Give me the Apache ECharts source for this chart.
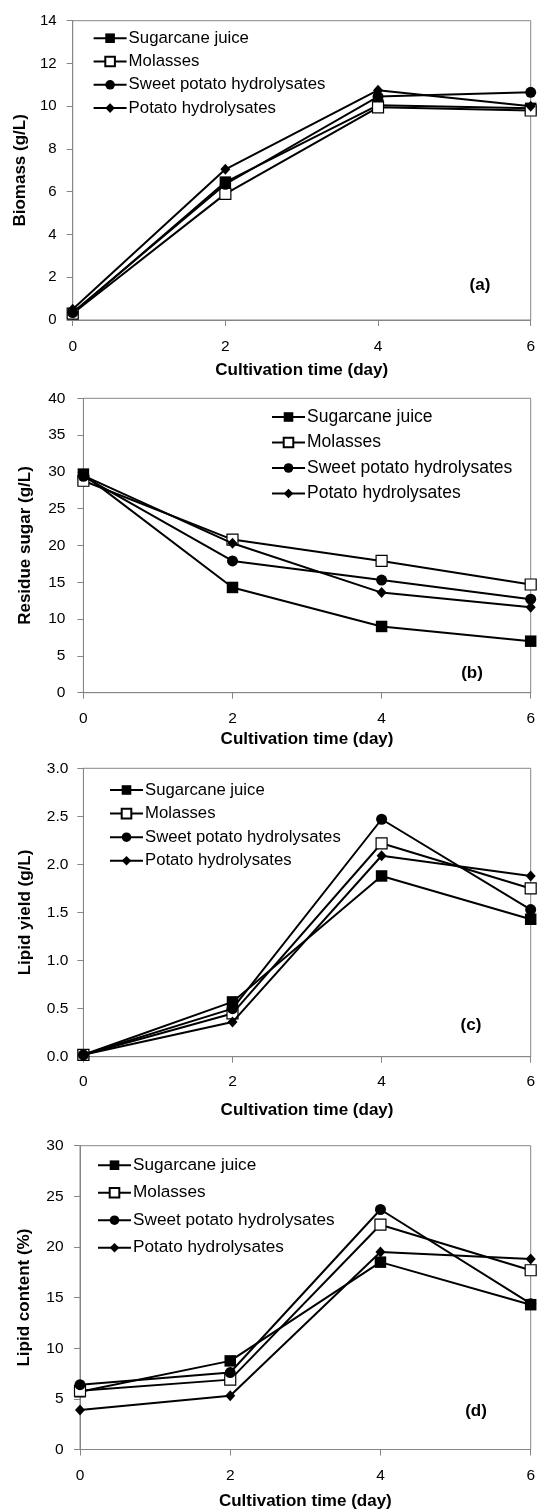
<!DOCTYPE html>
<html>
<head>
<meta charset="utf-8">
<script src="https://cdn.jsdelivr.net/npm/echarts@6/dist/echarts.min.js"></script>
<style>
html,body{margin:0;padding:0;background:#fff;}
#main{width:538px;height:1511px;}
</style>
</head>
<body>
<div id="main"></div>
<script>
// ---- data ----
const days = [0, 2, 4, 6];
const seriesNames = ['Sugarcane juice', 'Molasses', 'Sweet potato hydrolysates', 'Potato hydrolysates'];

// (a) Biomass (g/L)
const biomassSugarcane = [0.3, 6.45, 10.05, 9.9];
const biomassMolasses = [0.3, 5.9, 9.95, 9.8];
const biomassSweetPotato = [0.35, 6.35, 10.45, 10.65];
const biomassPotato = [0.5, 7.05, 10.75, 10.0];

// (b) Residue sugar (g/L)
const sugarSugarcane = [29.7, 14.3, 9.0, 7.0];
const sugarMolasses = [28.8, 20.8, 17.9, 14.7];
const sugarSweetPotato = [29.4, 17.9, 15.3, 12.7];
const sugarPotato = [29.5, 20.3, 13.6, 11.6];

// (c) Lipid yield (g/L)
const yieldSugarcane = [0.02, 0.57, 1.88, 1.43];
const yieldMolasses = [0.02, 0.45, 2.22, 1.75];
const yieldSweetPotato = [0.02, 0.5, 2.47, 1.53];
const yieldPotato = [0.02, 0.36, 2.09, 1.88];

// (d) Lipid content (%)
const contentSugarcane = [5.7, 8.75, 18.5, 14.3];
const contentMolasses = [5.8, 6.9, 22.2, 17.7];
const contentSweetPotato = [6.4, 7.6, 23.7, 14.4];
const contentPotato = [3.9, 5.3, 19.5, 18.8];

const panelTitles = ['Biomass (g/L)', 'Residue sugar (g/L)', 'Lipid yield (g/L)', 'Lipid content (%)'];
const panelTags = ['(a)', '(b)', '(c)', '(d)'];
const yMax = [14, 40, 3, 30];
const yInterval = [2, 5, 0.5, 5];
const xMax = 6, xInterval = 2;
const xTitle = 'Cultivation time (day)';

const panelData = [
  [biomassSugarcane, biomassMolasses, biomassSweetPotato, biomassPotato],
  [sugarSugarcane, sugarMolasses, sugarSweetPotato, sugarPotato],
  [yieldSugarcane, yieldMolasses, yieldSweetPotato, yieldPotato],
  [contentSugarcane, contentMolasses, contentSweetPotato, contentPotato]
];

// ---- layout ----
const FONT = '"Liberation Sans", Arial, sans-serif';
const W = 538;
const grids = [
  {left: 72.7, right: W - 534.6, top: 20.7, height: 299.3},
  {left: 83.4, right: W - 532.9, top: 398.3, height: 294.4},
  {left: 83.4, right: W - 532.9, top: 768.3, height: 288.4},
  {left: 80, right: W - 534.6, top: 1145.7, height: 305}
];
const xLabelMargin = [19, 18, 17.5, 18.5];
const xNameGap = [41.5, 38.5, 45.5, 43.5];
const yNameGap = [44, 50, 50, 47];
const yLabelMargin = [16, 18, 15, 16.5];
const yLabelSize = [15, 15.5, 15.5, 15.5];
const legendPos = [
  {left: 92.6, top: 29.7, gap: 6.3, size: 16.8},
  {left: 271, top: 408, gap: 7.5, size: 17.5},
  {left: 109, top: 781.5, gap: 6.6, size: 16.7},
  {left: 97, top: 1156.7, gap: 10.5, size: 17.2}
];
const tagPos = [[480, 285], [472, 673], [471, 1025], [476, 1411]];

const AXIS_GRAY = '#868686';

const symbolDefs = [
  {symbol: 'rect', symbolSize: 11.5, itemStyle: {color: '#000'}},
  {symbol: 'rect', symbolSize: 11, itemStyle: {color: '#fff', borderColor: '#000', borderWidth: 1.2}},
  {symbol: 'circle', symbolSize: 11, itemStyle: {color: '#000'}},
  {symbol: 'diamond', symbolSize: [10, 11], itemStyle: {color: '#000'}}
];

const option = {
  animation: false,
  backgroundColor: '#fff',
  textStyle: {fontFamily: FONT},
  grid: grids.map(g => ({
    left: g.left, right: g.right, top: g.top, height: g.height,
    show: true, borderColor: AXIS_GRAY, borderWidth: 1, backgroundColor: 'transparent',
    containLabel: false
  })),
  xAxis: grids.map((g, p) => ({
    type: 'value', gridIndex: p, min: 0, max: xMax, interval: xInterval,
    name: xTitle, nameLocation: 'middle', nameGap: xNameGap[p],
    nameTextStyle: {fontFamily: FONT, fontWeight: 'bold', fontSize: 17, color: '#000'},
    axisLine: {show: true, lineStyle: {color: AXIS_GRAY, width: 1}},
    axisTick: {show: true, inside: false, length: 6, lineStyle: {color: AXIS_GRAY}},
    axisLabel: {fontFamily: FONT, fontSize: 15.5, color: '#000', margin: xLabelMargin[p]},
    splitLine: {show: false}
  })),
  yAxis: grids.map((g, p) => ({
    type: 'value', gridIndex: p, min: 0, max: yMax[p], interval: yInterval[p],
    name: panelTitles[p], nameLocation: 'middle', nameGap: yNameGap[p], nameRotate: 90,
    nameTextStyle: {fontFamily: FONT, fontWeight: 'bold', fontSize: 17, color: '#000'},
    axisLine: {show: true, lineStyle: {color: AXIS_GRAY, width: 1}},
    axisTick: {show: true, inside: false, length: 6, lineStyle: {color: AXIS_GRAY}},
    axisLabel: {
      fontFamily: FONT, fontSize: yLabelSize[p], color: '#000', margin: yLabelMargin[p],
      formatter: p === 2 ? (v => v.toFixed(1)) : (v => String(v))
    },
    splitLine: {show: false}
  })),
  legend: legendPos.map(l => ({
    orient: 'vertical', left: l.left, top: l.top, itemGap: l.gap,
    padding: 0,
    itemWidth: 33, itemHeight: 12,
    data: seriesNames,
    selectedMode: false,
    textStyle: {fontFamily: FONT, fontSize: l.size, color: '#000', padding: [0, 0, 0, -3]}
  })),
  graphic: tagPos.map((t, p) => ({
    type: 'text', x: t[0], y: t[1],
    style: {text: panelTags[p], font: 'bold 17px ' + FONT, fill: '#000', align: 'center', verticalAlign: 'middle'}
  })),
  series: []
};

panelData.forEach((set, p) => {
  set.forEach((vals, s) => {
    const def = symbolDefs[s];
    option.series.push({
      type: 'line',
      name: seriesNames[s],
      xAxisIndex: p, yAxisIndex: p,
      data: days.map((d, i) => [d, vals[i]]),
      symbol: def.symbol,
      symbolSize: def.symbolSize,
      itemStyle: def.itemStyle,
      lineStyle: {color: '#000', width: 2},
      color: '#000',
      clip: false,
      z: 2 + s
    });
  });
});

const chart = echarts.init(document.getElementById('main'), null, {renderer: 'canvas'});
chart.setOption(option);
</script>
</body>
</html>
